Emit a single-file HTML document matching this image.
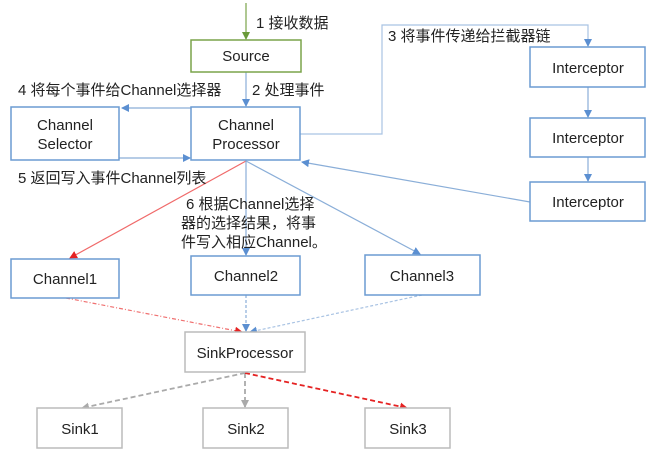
<!DOCTYPE html>
<html><head><meta charset="utf-8"><style>
html,body{margin:0;padding:0;background:#fff;}
svg{display:block;}
text{font-family:"Liberation Sans","Noto Sans CJK SC",sans-serif;font-size:15px;fill:#222;}
.c{text-anchor:middle;}
</style></head><body>
<svg width="666" height="457" viewBox="0 0 666 457" xmlns="http://www.w3.org/2000/svg">
<defs>
<marker id="ab" markerWidth="8" markerHeight="8" refX="7" refY="4" orient="auto" markerUnits="userSpaceOnUse"><path d="M0,0 L8,4 L0,8 z" fill="#5b8fd1"/></marker>
<marker id="ag" markerWidth="8" markerHeight="8" refX="7" refY="4" orient="auto" markerUnits="userSpaceOnUse"><path d="M0,0 L8,4 L0,8 z" fill="#6a9a3a"/></marker>
<marker id="ar" markerWidth="8" markerHeight="8" refX="7" refY="4" orient="auto" markerUnits="userSpaceOnUse"><path d="M0,0 L8,4 L0,8 z" fill="#e52222"/></marker>
<marker id="agr" markerWidth="8" markerHeight="8" refX="7" refY="4" orient="auto" markerUnits="userSpaceOnUse"><path d="M0,0 L8,4 L0,8 z" fill="#aaa"/></marker>
</defs>
<g fill="none" stroke-width="1.2">
<line x1="246" y1="3" x2="246" y2="39" stroke="#7aa44a" marker-end="url(#ag)"/>
<line x1="246" y1="72" x2="246" y2="106" stroke="#8aaed8" marker-end="url(#ab)"/>
<line x1="191" y1="108" x2="122" y2="108" stroke="#8aaed8" marker-end="url(#ab)"/>
<line x1="119" y1="158" x2="190" y2="158" stroke="#8aaed8" marker-end="url(#ab)"/>
<polyline points="300,134 382,134 382,25 588,25 588,46" stroke="#a9c3e3" marker-end="url(#ab)"/>
<line x1="588" y1="87" x2="588" y2="117" stroke="#8aaed8" marker-end="url(#ab)"/>
<line x1="588" y1="157" x2="588" y2="181" stroke="#8aaed8" marker-end="url(#ab)"/>
<line x1="530" y1="202" x2="302" y2="162" stroke="#8aaed8" marker-end="url(#ab)"/>
<line x1="246" y1="161" x2="70" y2="258" stroke="#f06a6a" marker-end="url(#ar)"/>
<line x1="246" y1="161" x2="246" y2="255" stroke="#8aaed8" marker-end="url(#ab)"/>
<line x1="246" y1="161" x2="420" y2="254" stroke="#8aaed8" marker-end="url(#ab)"/>
<line x1="66" y1="298" x2="242" y2="332" stroke="#f07070" stroke-dasharray="4,2,1,2" marker-end="url(#ar)"/>
<line x1="246" y1="295" x2="246" y2="331" stroke="#8aaed8" stroke-dasharray="3,2" marker-end="url(#ab)"/>
<line x1="422" y1="295" x2="250" y2="332" stroke="#a9c3e3" stroke-dasharray="3,2" marker-end="url(#ab)"/>
<line x1="245" y1="373" x2="82" y2="408" stroke="#aaa" stroke-width="1.8" stroke-dasharray="5,3" marker-end="url(#agr)"/>
<line x1="245" y1="373" x2="245" y2="407" stroke="#aaa" stroke-width="1.8" stroke-dasharray="5,3" marker-end="url(#agr)"/>
<line x1="245" y1="373" x2="407" y2="408" stroke="#e52222" stroke-width="1.8" stroke-dasharray="5,3" marker-end="url(#ar)"/>
</g>
<g fill="#fff" stroke-width="1.5">
<rect x="191" y="40" width="110" height="32" stroke="#7aa44a"/>
<rect x="11" y="107" width="108" height="53" stroke="#6b9bd2"/>
<rect x="191" y="107" width="109" height="53" stroke="#6b9bd2"/>
<rect x="530" y="47" width="115" height="40" stroke="#6b9bd2"/>
<rect x="530" y="118" width="115" height="39" stroke="#6b9bd2"/>
<rect x="530" y="182" width="115" height="39" stroke="#6b9bd2"/>
<rect x="11" y="259" width="108" height="39" stroke="#6b9bd2"/>
<rect x="191" y="256" width="109" height="39" stroke="#6b9bd2"/>
<rect x="365" y="255" width="115" height="40" stroke="#6b9bd2"/>
<rect x="185" y="332" width="120" height="40" stroke="#bbb"/>
<rect x="37" y="408" width="85" height="40" stroke="#bbb"/>
<rect x="203" y="408" width="85" height="40" stroke="#bbb"/>
<rect x="365" y="408" width="85" height="40" stroke="#bbb"/>
</g>
<text x="246" y="61" class="c">Source</text>
<text x="65" y="130" class="c">Channel</text>
<text x="65" y="149" class="c">Selector</text>
<text x="246" y="130" class="c">Channel</text>
<text x="246" y="149" class="c">Processor</text>
<text x="588" y="73" class="c">Interceptor</text>
<text x="588" y="143" class="c">Interceptor</text>
<text x="588" y="207" class="c">Interceptor</text>
<text x="65" y="284" class="c">Channel1</text>
<text x="246" y="281" class="c">Channel2</text>
<text x="422" y="281" class="c">Channel3</text>
<text x="245" y="358" class="c">SinkProcessor</text>
<text x="80" y="434" class="c">Sink1</text>
<text x="246" y="434" class="c">Sink2</text>
<text x="408" y="434" class="c">Sink3</text>
<text x="256" y="28">1 接收数据</text>
<text x="252" y="95">2 处理事件</text>
<text x="388" y="41">3 将事件传递给拦截器链</text>
<text x="18" y="95">4 将每个事件给Channel选择器</text>
<text x="18" y="183">5 返回写入事件Channel列表</text>
<text x="186" y="209">6 根据Channel选择</text>
<text x="181" y="228">器的选择结果，将事</text>
<text x="181" y="247">件写入相应Channel。</text>
</svg>
</body></html>
